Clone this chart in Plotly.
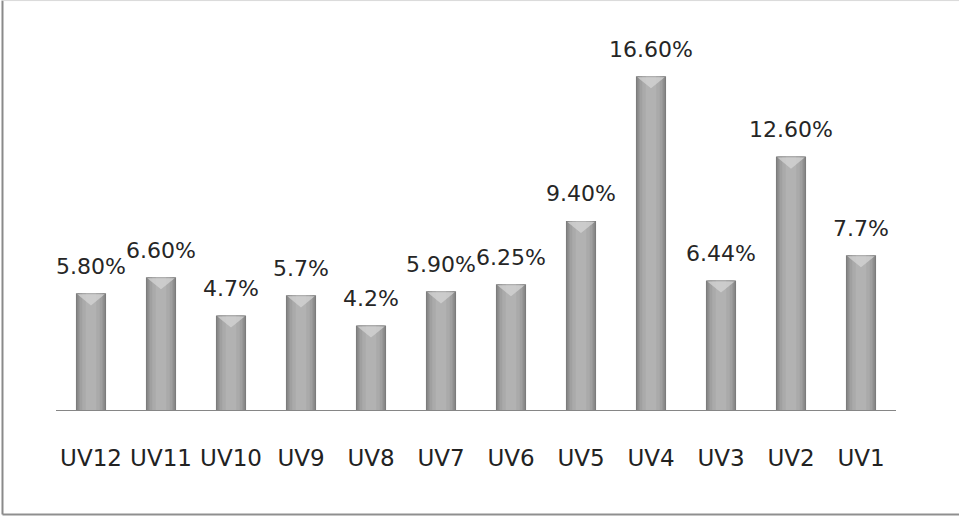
import plotly.graph_objects as go

# Share of each UV group (%)
categories = ["UV12", "UV11", "UV10", "UV9", "UV8", "UV7",
              "UV6", "UV5", "UV4", "UV3", "UV2", "UV1"]
values = [5.80, 6.60, 4.7, 5.7, 4.2, 5.90, 6.25, 9.40, 16.60, 6.44, 12.60, 7.7]
value_labels = ["5.80%", "6.60%", "4.7%", "5.7%", "4.2%", "5.90%",
                "6.25%", "9.40%", "16.60%", "6.44%", "12.60%", "7.7%"]

FONT = "DejaVu Sans"
BAR_W = 0.43

fig = go.Figure()

# Layered bars of decreasing width give a cylindrical grey shading
shade_layers = [(BAR_W, "#7c7c7c"), (0.39, "#8f8f8f"), (0.33, "#a0a0a0"),
                (0.25, "#aaaaaa"), (0.15, "#b2b2b2")]
for w, c in shade_layers:
    fig.add_trace(go.Bar(
        x=categories, y=values, width=w,
        marker=dict(color=c, line=dict(width=0)),
        hoverinfo="skip", showlegend=False,
    ))

# Bevelled cap at the top of each bar
idx = {c: i for i, c in enumerate(categories)}
bevel_depth = 0.6
cx, cy = [], []
for c, v in zip(categories, values):
    i = idx[c]
    half = BAR_W / 2 - 0.02
    cx += [i - half, i + half, i, i - half, None]
    cy += [v - 0.05, v - 0.05, v - bevel_depth, v - 0.05, None]
fig.add_trace(go.Scatter(
    x=cx, y=cy, xaxis="x2", mode="lines", fill="toself",
    fillcolor="rgba(215,215,215,0.7)", line=dict(width=0),
    hoverinfo="skip", showlegend=False,
))

# Value labels above the bars
for c, v, t in zip(categories, values, value_labels):
    fig.add_annotation(
        x=c, y=v, text=t, showarrow=False, yanchor="middle", yshift=27,
        font=dict(family=FONT, size=22, color="#262626"),
    )

# Outer frame of the chart area
frame = [
    dict(x0=-0.0637, x1=-0.0637, y0=-0.2887, y1=1.131, color="#8a8a8a", width=2),
    dict(x0=-0.0637, x1=1.1, y0=1.131, y1=1.131, color="#d9d9d9", width=1),
    dict(x0=-0.0637, x1=1.1, y0=-0.2887, y1=-0.2887, color="#8f8f8f", width=2),
]
for f in frame:
    fig.add_shape(type="line", xref="paper", yref="paper",
                  x0=f["x0"], x1=f["x1"], y0=f["y0"], y1=f["y1"],
                  line=dict(color=f["color"], width=f["width"]))

fig.update_layout(
    width=959, height=518,
    margin=dict(l=56, r=63, t=48, b=108),
    paper_bgcolor="white", plot_bgcolor="white",
    barmode="overlay", showlegend=False,
    xaxis=dict(
        type="category", range=[-0.5, 11.5],
        showline=True, linecolor="#868686", linewidth=1,
        showgrid=False, zeroline=False, ticks="",
        tickfont=dict(family=FONT, size=23, color="#222222"),
        ticklabelstandoff=27,
    ),
    xaxis2=dict(overlaying="x", range=[-0.5, 11.5], visible=False),
    yaxis=dict(range=[0, 18], visible=False, showgrid=False, zeroline=False),
)

fig.write_html("out.html")
